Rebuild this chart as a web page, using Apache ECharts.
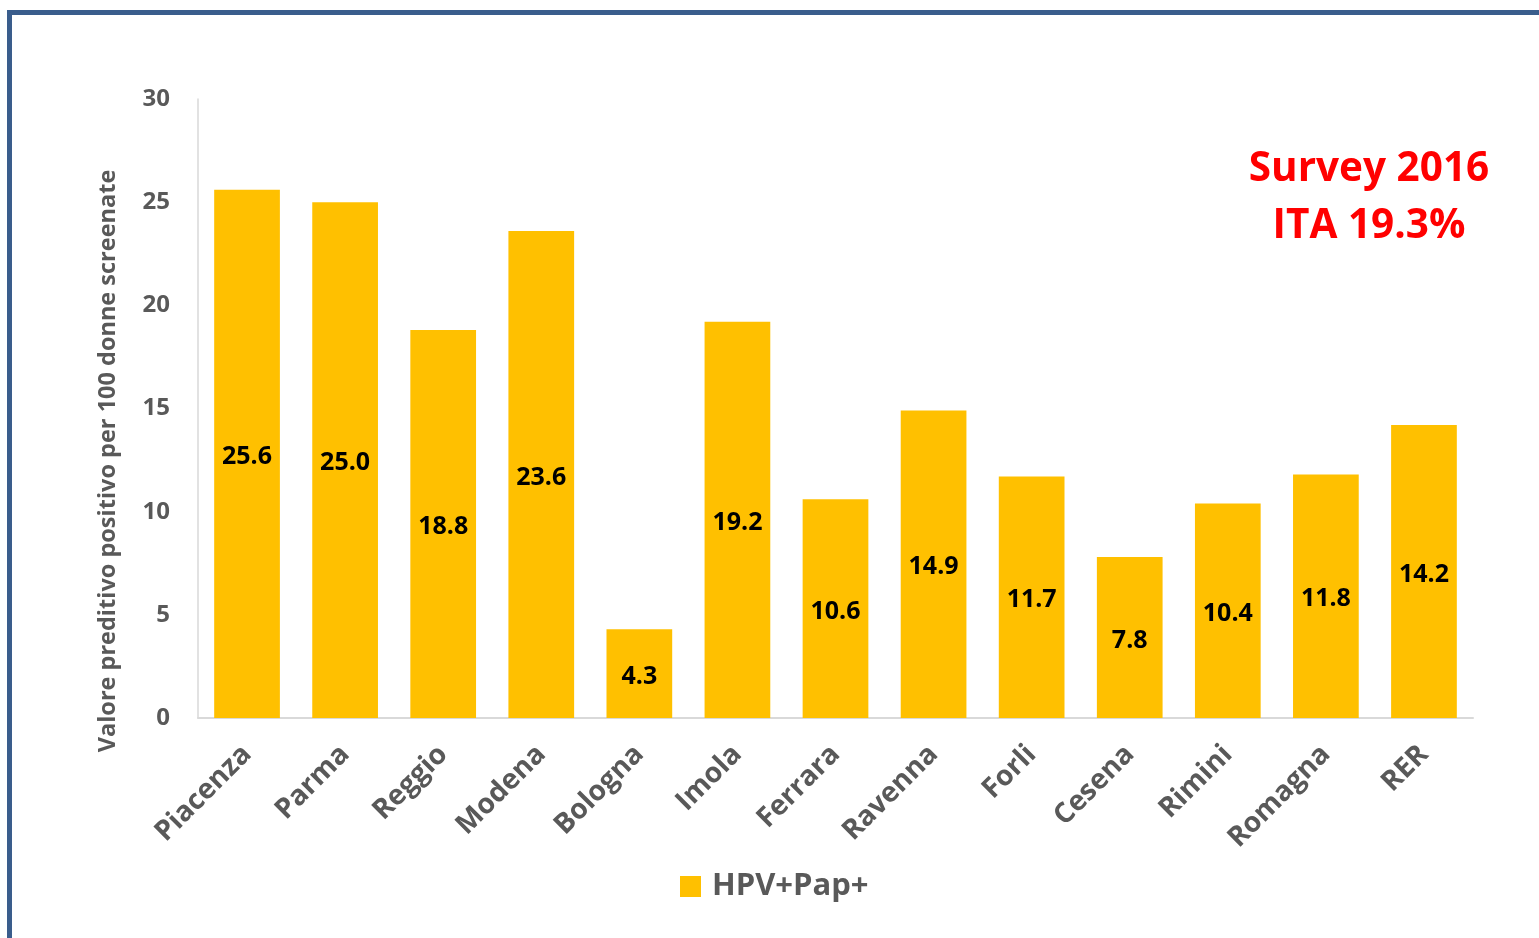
<!DOCTYPE html>
<html>
<head>
<meta charset="utf-8">
<script src="https://cdn.jsdelivr.net/npm/echarts@6/dist/echarts.min.js"></script>
<style>
  html, body { margin: 0; padding: 0; background: #fff; }
  #chart { width: 1539px; height: 938px; }
</style>
</head>
<body>
<div id="chart"></div>
<script>
// values
const categories = ["Piacenza", "Parma", "Reggio", "Modena", "Bologna", "Imola", "Ferrara",
  "Ravenna", "Forli", "Cesena", "Rimini", "Romagna", "RER"];
const hpvPapValues = [25.6, 25.0, 18.8, 23.6, 4.3, 19.2, 10.6, 14.9, 11.7, 7.8, 10.4, 11.8, 14.2];
const seriesName = "HPV+Pap+";
const yAxisTitle = "Valore preditivo positivo per 100 donne screenate";
const noteLines = ["Survey 2016", "ITA 19.3%"];

const font = "'Open Sans', sans-serif";
const grey = "#595959";

const chart = echarts.init(document.getElementById("chart"));
chart.setOption({
  animation: false,
  textStyle: { fontFamily: font },
  grid: { left: 198, right: 66, top: 99, bottom: 220 },
  legend: {
    data: [seriesName],
    left: 680,
    top: 871,
    padding: 0,
    icon: "rect",
    itemWidth: 21,
    itemHeight: 21,
    textStyle: { fontSize: 31, fontWeight: "bold", color: grey, fontFamily: font, padding: [0, 0, 0, 6] }
  },
  xAxis: {
    type: "category",
    data: categories,
    axisTick: { show: false },
    axisLine: { lineStyle: { color: "#d9d9d9", width: 2 } },
    axisLabel: {
      rotate: 45,
      margin: 32,
      fontSize: 28,
      fontWeight: "bold",
      color: grey,
      fontFamily: font
    }
  },
  yAxis: {
    type: "value",
    min: 0,
    max: 30,
    interval: 5,
    splitLine: { show: false },
    axisTick: { show: false },
    axisLine: { show: true, lineStyle: { color: "#d9d9d9", width: 1.5 } },
    axisLabel: { fontSize: 24, fontWeight: "bold", color: grey, margin: 28, fontFamily: font }
  },
  series: [{
    name: seriesName,
    type: "bar",
    data: hpvPapValues,
    barWidth: "67%",
    itemStyle: { color: "#ffc000" },
    label: {
      show: true,
      position: "inside",
      offset: [0, 3],
      formatter: p => p.value.toFixed(1),
      fontSize: 25,
      fontWeight: "bold",
      color: "#000",
      fontFamily: font
    }
  }],
  graphic: [
    {
      type: "rect",
      silent: true,
      shape: { x: 9.5, y: 12.5, width: 2000, height: 2000 },
      style: { fill: "none", stroke: "#3a5d8c", lineWidth: 5 }
    },
    {
      type: "text",
      x: 108,
      y: 461,
      rotation: Math.PI / 2,
      style: {
        text: yAxisTitle,
        fill: grey,
        font: "bold 23.5px " + font,
        align: "center",
        verticalAlign: "middle"
      }
    },
    {
      type: "text",
      x: 1369,
      y: 198,
      style: {
        text: noteLines.join("\n"),
        fill: "#ff0000",
        font: "bold 40.5px " + font,
        lineHeight: 57,
        align: "center",
        verticalAlign: "middle"
      }
    }
  ]
});
</script>
</body>
</html>
